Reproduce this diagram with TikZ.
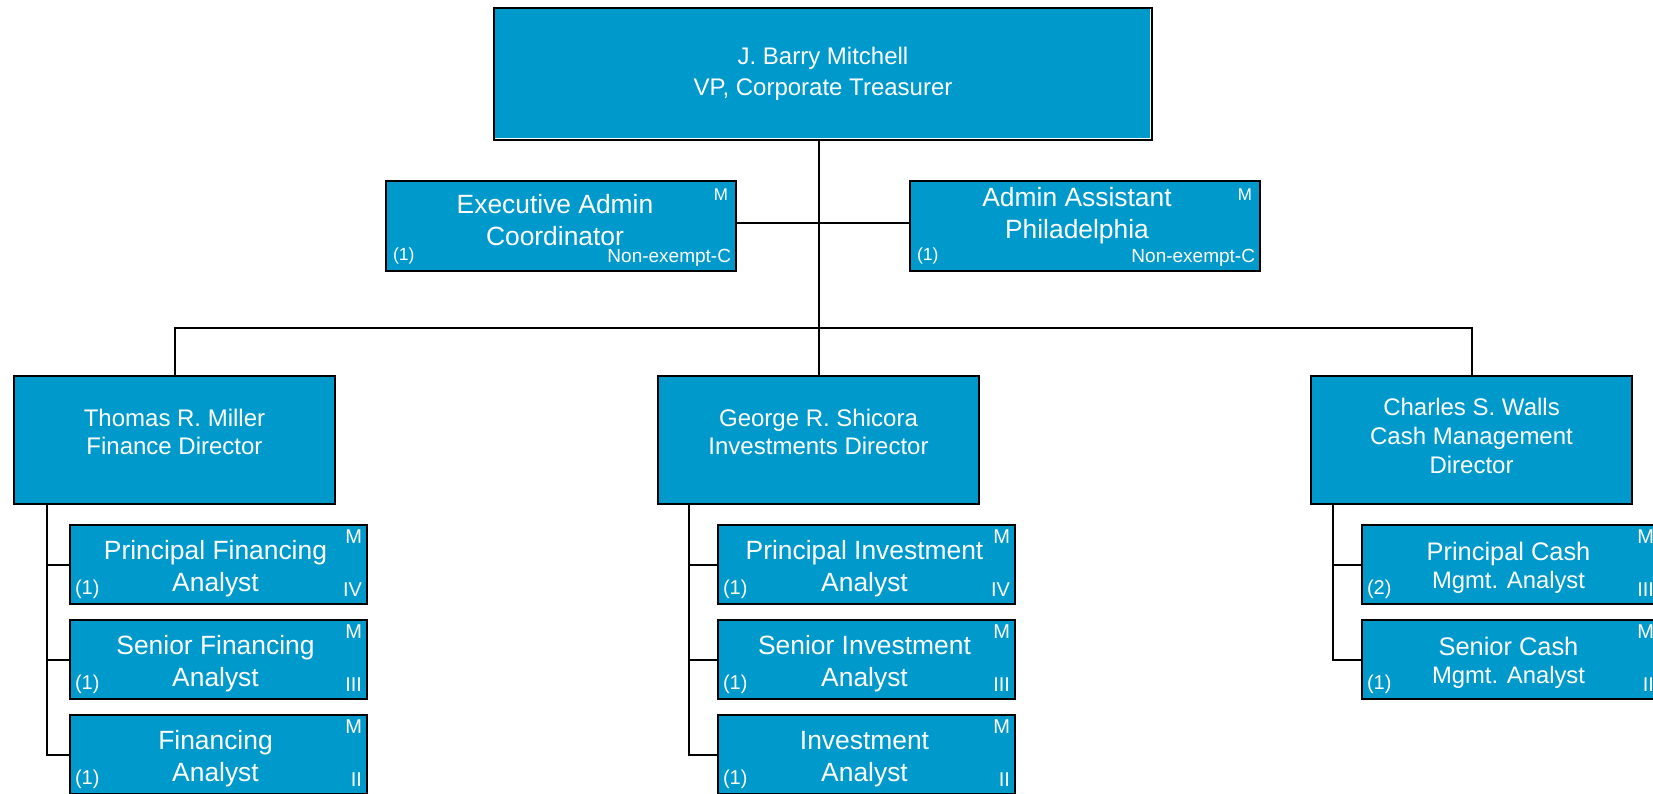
\documentclass[tikz,border=0pt]{standalone}
\usepackage{fontspec}
\setmainfont{Liberation Sans}
\definecolor{boxblue}{RGB}{0,153,204}
\begin{document}
\begin{tikzpicture}[x=0.5pt, y=-0.5pt, line width=1pt,
    box/.style={draw=black, fill=boxblue, text=white, align=center, inner sep=0pt, anchor=north west},
    topbox/.style={box, minimum width=329pt, minimum height=66pt, font=\fontsize{12}{15.3}\selectfont},
    adminbox/.style={box, minimum width=175pt, minimum height=45pt},
    dirbox/.style={box, minimum width=160.5pt, minimum height=64pt},
    subbox/.style={box, minimum width=148.5pt, minimum height=39.5pt},
    txt/.style={text=white, align=center, inner sep=0pt},
    admintxt/.style={txt, font=\fontsize{13.2}{16}\selectfont},
    dirtxt/.style={txt, font=\fontsize{12}{13.7}\selectfont},
    subtxt/.style={txt, font=\fontsize{13.2}{16}\selectfont},
    cashtxt/.style={txt, font=\fontsize{12.7}{14.2}\selectfont},
    corner/.style={text=white, inner sep=2.5pt, font=\fontsize{10}{12}\selectfont},
    grade/.style 2 args={label={[corner, anchor=north east]north east:M},
        label={[corner, anchor=south west]south west:#1},
        label={[corner, inner ysep=4pt, anchor=south east]south east:#2}},
    admin/.style={label={[corner, inner sep=4pt, font=\fontsize{8.5}{10}\selectfont, anchor=north east]north east:M},
        label={[corner, inner sep=3.5pt, font=\fontsize{8.8}{10}\selectfont, anchor=south west]south west:(1)},
        label={[corner, inner sep=2.5pt, font=\fontsize{9.5}{11}\selectfont, anchor=south east]south east:Non-exempt-C}}]
\useasboundingbox (0,0) rectangle (1653,793);
\clip (0,0) rectangle (1653,793);
% treasurer and admin staff
\node[topbox] (treas) at (493,7) {J. Barry Mitchell\\VP, Corporate Treasurer};
\draw[white, line width=0.6pt] ([shift={(1pt,1.1pt)}]treas.south west) -| ([shift={(-1.1pt,-1pt)}]treas.north east);
\node[adminbox, admin] (execadmin) at (385,180) {};
\node[admintxt] (execadmin-t) at ([shift={(-3pt,3pt)}]execadmin.center) {Executive Admin\\Coordinator};
\node[adminbox, admin] (adminasst) at (909,180) {};
\node[admintxt] (adminasst-t) at ([shift={(-4pt,5.2pt)}]adminasst.center) {Admin Assistant\\Philadelphia};
% directors
\node[dirbox] (fin) at (13,375) {};
\node[dirtxt] (fin-t) at ([yshift=4pt]fin.center) {Thomas R. Miller\\Finance Director};
\node[dirbox] (inv) at (657,375) {};
\node[dirtxt] (inv-t) at ([yshift=4pt]inv.center) {George R. Shicora\\Investments Director};
\node[dirbox] (cash) at (1310,375) {};
\node[dirtxt, font=\fontsize{12}{14.5}\selectfont] (cash-t) at ([yshift=1.8pt]cash.center) {Charles S. Walls\\Cash Management\\Director};
% analysts
\node[subbox, grade={(1)}{IV}] (fin1) at (69,524) {};
\node[subbox, grade={(1)}{III}] (fin2) at (69,619) {};
\node[subbox, grade={(1)}{II}] (fin3) at (69,714) {};
\node[subbox, grade={(1)}{IV}] (inv1) at (717,524) {};
\node[subbox, grade={(1)}{III}] (inv2) at (717,619) {};
\node[subbox, grade={(1)}{II}] (inv3) at (717,714) {};
\node[subbox, grade={(2)}{III}] (cash1) at (1361,524) {};
\node[subbox, grade={(1)}{II}] (cash2) at (1361,619) {};
\node[subtxt] (fin1-t) at ([shift={(-1.5pt,-2.2pt)}]fin1.center) {Principal Financing\\Analyst};
\node[subtxt] (fin2-t) at ([shift={(-1.5pt,-2.2pt)}]fin2.center) {Senior Financing\\Analyst};
\node[subtxt] (fin3-t) at ([shift={(-1.5pt,-2.2pt)}]fin3.center) {Financing\\Analyst};
\node[subtxt] (inv1-t) at ([shift={(-1pt,-2.2pt)}]inv1.center) {Principal Investment\\Analyst};
\node[subtxt] (inv2-t) at ([shift={(-1pt,-2.2pt)}]inv2.center) {Senior Investment\\Analyst};
\node[subtxt] (inv3-t) at ([shift={(-1pt,-2.2pt)}]inv3.center) {Investment\\Analyst};
\node[cashtxt] (cash1-t) at ([shift={(-1pt,-1.5pt)}]cash1.center) {Principal Cash\\{\fontsize{11.9}{14.2}\selectfont Mgmt. Analyst}};
\node[cashtxt] (cash2-t) at ([shift={(-1pt,-1.5pt)}]cash2.center) {Senior Cash\\{\fontsize{11.9}{14.2}\selectfont Mgmt. Analyst}};
% connectors
\coordinate (bus) at (819,328);
\draw (treas.south -| inv.north) -- (inv.north);
\draw ([yshift=1.5pt]execadmin.east) -- ([yshift=1.5pt]adminasst.west);
\draw (fin.north) |- (bus) -| (cash.north);
\foreach \s in {fin1,fin2,fin3}
    \draw ([xshift=17pt]fin.south west) |- (\s.west);
\foreach \s in {inv1,inv2,inv3}
    \draw ([xshift=16pt]inv.south west) |- (\s.west);
\foreach \s in {cash1,cash2}
    \draw ([xshift=11.5pt]cash.south west) |- (\s.west);
\end{tikzpicture}
\end{document}
